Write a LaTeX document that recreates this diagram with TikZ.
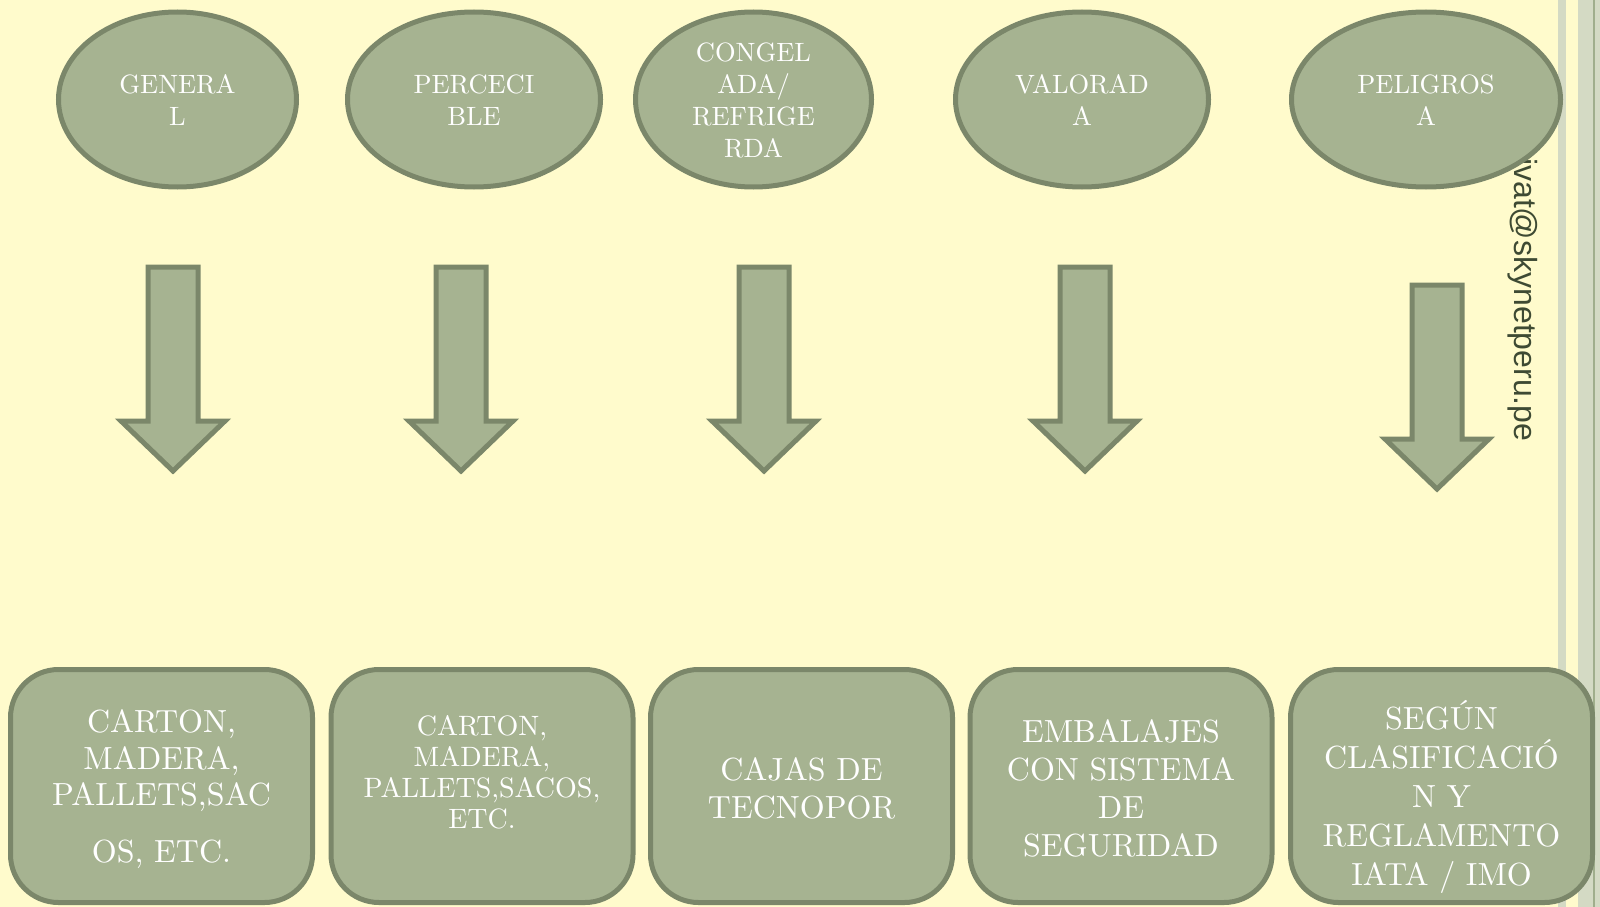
\documentclass[tikz,border=0pt]{standalone}
\usepackage{fontspec}
\setmainfont{lmroman10-regular}[Extension=.otf]
\newfontfamily\wmfont{Liberation Sans}
\usetikzlibrary{shapes.geometric}
\definecolor{bgyellow}{HTML}{FFFBCC}
\definecolor{shapefill}{HTML}{A6B391}
\definecolor{shapeline}{HTML}{7B876A}
\definecolor{barcol}{HTML}{D4DAC4}
\definecolor{barline}{HTML}{A0AE8C}
\definecolor{wmcol}{HTML}{3E4A33}
\begin{document}
\begin{tikzpicture}[x=1pt,y=-1pt,
  ell/.style={ellipse, draw=shapeline, fill=shapefill, line width=5pt, inner sep=0pt, minimum height=175pt},
  boxnode/.style={rectangle, rounded corners=48pt, draw=shapeline, fill=shapefill, line width=5pt, inner sep=0pt, minimum width=302pt, minimum height=233pt},
  blockarrow/.style={draw=shapeline, fill=shapefill, line width=5pt},
  etxt/.style={text=white, align=center, inner sep=0pt, anchor=base, font=\fontsize{26.5}{32}\selectfont},
  btxt/.style={text=white, align=center, inner sep=0pt, anchor=base, font=\fontsize{32}{38}\selectfont},
  wm/.style={text=wmcol, inner sep=0pt, rotate=-90, anchor=base west, font=\wmfont\fontsize{32}{38}\selectfont}
]
\useasboundingbox (0,0) rectangle (1600,907);
\fill[bgyellow] (0,0) rectangle (1600,907);
% right-edge bars
\fill[barcol] (1558,0) rectangle (1566,907);
\fill[barcol] (1578,0) rectangle (1600,907);
\fill[barline] (1593,0) rectangle (1595,907);
% watermark text
\node[wm] (wm) at (1514,158) {ivat@skynetperu.pe};
% ellipses
\node[ell, minimum width=238pt] (e1) at (177.5,99.5) {};
\node[ell, minimum width=253pt] (e2) at (474,99.5) {};
\node[ell, minimum width=236pt] (e3) at (753.5,99.5) {};
\node[ell, minimum width=253pt] (e4) at (1082,99.5) {};
\node[ell, minimum width=269pt] (e5) at (1426,99.5) {};
% (anchor=base is the baseline of the last line)
\node[etxt] (t1) at (177.5,125) {GENERA\\L};
\node[etxt] (t2) at (474,125) {PERCECI\\BLE};
\node[etxt] (t3) at (753.5,157) {CONGEL\\ADA/\\REFRIGE\\RDA};
\node[etxt] (t4) at (1082,125) {VALORAD\\A};
\node[etxt] (t5) at (1426,125) {PELIGROS\\A};
% block arrows
\foreach \ax/\at in {173/267, 461/267, 764/267, 1085/267, 1437/285}{
  \draw[blockarrow] (\ax-25,\at) -- (\ax+25,\at) -- (\ax+25,\at+154) -- (\ax+52,\at+154)
    -- (\ax,\at+204) -- (\ax-52,\at+154) -- (\ax-25,\at+154) -- cycle;
}
% boxes
\node[boxnode] (b1) at (161.5,786) {};
\node[boxnode] (b2) at (482,786) {};
\node[boxnode] (b3) at (801.5,786) {};
\node[boxnode] (b4) at (1121,786) {};
\node[boxnode] (b5) at (1441.5,786) {};
\node[btxt, font=\fontsize{32}{36.5}\selectfont] (s1) at (161.5,862) {CARTON,\\MADERA,\\PALLETS,SAC\\[20pt]OS, ETC.};
\node[btxt, font=\fontsize{28}{31}\selectfont] (s2) at (482,828) {CARTON,\\MADERA,\\PALLETS,SACOS,\\ETC.};
\node[btxt] (s3) at (801.5,818) {CAJAS DE\\TECNOPOR};
\node[btxt] (s4) at (1121,856) {EMBALAJES\\CON SISTEMA\\DE\\SEGURIDAD};
\node[btxt, font=\fontsize{32}{39}\selectfont] (s5) at (1441.5,885) {SEGÚN\\CLASIFICACIÓ\\N Y\\REGLAMENTO\\IATA / IMO};
\end{tikzpicture}
\end{document}
